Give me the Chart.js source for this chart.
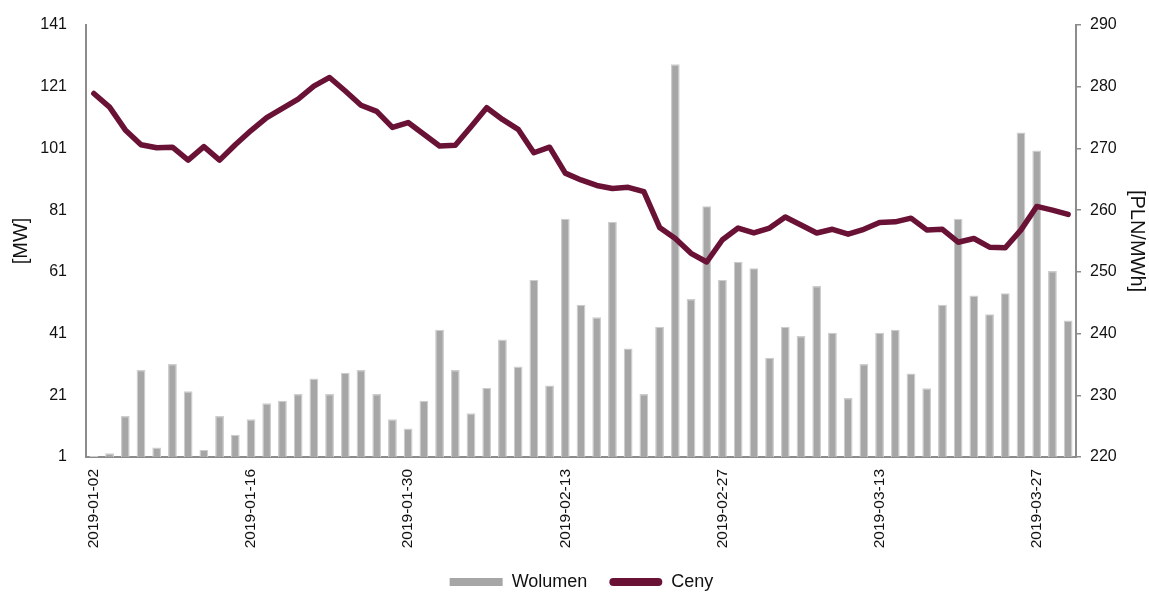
<!DOCTYPE html>
<html>
<head>
<meta charset="utf-8">
<script src="https://cdn.jsdelivr.net/npm/chart.js@4.4.1/dist/chart.umd.min.js"></script>
<style>
  html, body { margin: 0; padding: 0; background: #ffffff; }
  #wrap { width: 1149px; height: 592px; position: relative; }
</style>
</head>
<body>
<div id="wrap"><canvas id="c" width="1149" height="592"></canvas></div>
<script>
const categories = [
  "2019-01-02","2019-01-03","2019-01-04","2019-01-07","2019-01-08","2019-01-09","2019-01-10","2019-01-11",
  "2019-01-14","2019-01-15","2019-01-16","2019-01-17","2019-01-18","2019-01-21","2019-01-22","2019-01-23",
  "2019-01-24","2019-01-25","2019-01-28","2019-01-29","2019-01-30","2019-01-31",
  "2019-02-01","2019-02-04","2019-02-05","2019-02-06","2019-02-07","2019-02-08","2019-02-11","2019-02-12",
  "2019-02-13","2019-02-14","2019-02-15","2019-02-18","2019-02-19","2019-02-20","2019-02-21","2019-02-22",
  "2019-02-25","2019-02-26","2019-02-27","2019-02-28",
  "2019-03-01","2019-03-04","2019-03-05","2019-03-06","2019-03-07","2019-03-08","2019-03-11","2019-03-12",
  "2019-03-13","2019-03-14","2019-03-15","2019-03-18","2019-03-19","2019-03-20","2019-03-21","2019-03-22",
  "2019-03-25","2019-03-26","2019-03-27","2019-03-28","2019-03-29"
];
const xTickLabels = ["2019-01-02","2019-01-16","2019-01-30","2019-02-13","2019-02-27","2019-03-13","2019-03-27"];

const wolumen = [
  1.3, 2.2, 14.3, 29.2, 4.1, 31.1, 22.3, 3.3, 14.3, 8.2,
  13.2, 18.4, 19.2, 21.4, 26.4, 21.4, 28.3, 29.2, 21.4, 13.2,
  10.2, 19.2, 42.2, 29.2, 15.2, 23.4, 39.1, 30.3, 58.4, 24.2,
  78.2, 50.3, 46.3, 77.2, 36.2, 21.4, 43.2, 128.3, 52.2, 82.3,
  58.4, 64.3, 62.2, 33.2, 43.2, 40.2, 56.4, 41.3, 20.1, 31.1,
  41.3, 42.2, 28.1, 23.3, 50.3, 78.2, 53.3, 47.3, 54.1, 106.2,
  100.3, 61.3, 45.2
];
const ceny = [
  278.9, 276.7, 273.0, 270.6, 270.1, 270.2, 268.1, 270.3, 268.1, 270.6,
  272.9, 275.0, 276.5, 278.0, 280.1, 281.5, 279.3, 277.0, 276.0, 273.4,
  274.2, 272.3, 270.4, 270.5, 273.5, 276.6, 274.7, 273.1, 269.3, 270.2,
  266.0, 264.9, 264.0, 263.5, 263.7, 263.0, 257.2, 255.4, 253.0, 251.6,
  255.2, 257.1, 256.3, 257.1, 258.9, 257.6, 256.3, 256.9, 256.1, 256.9,
  258.0, 258.1, 258.7, 256.8, 256.9, 254.8, 255.4, 254.0, 253.9, 256.8,
  260.6, 260.0, 259.3
];
const leftTicks = [1, 21, 41, 61, 81, 101, 121, 141];
const rightTicks = [220, 230, 240, 250, 260, 270, 280, 290];

const BAR = '#a6a6a6', BAR_EDGE = '#cdcdcd', LINE = '#6a1236', AXIS = '#8c8c8c';
const FONT = "'Liberation Sans', Arial, sans-serif";
const LEGEND_FONT = 18, LEGEND_PAD = 22;

// place the legend row like the reference (centre y ~582, slightly right of centre)
const legendPlacer = {
  id: 'legendPlacer',
  afterLayout(chart) {
    const lg = chart.legend;
    if (!lg) return;
    const dy = 582 - (lg.top + LEGEND_PAD + LEGEND_FONT / 2);
    lg.top += dy;
    lg.bottom = chart.height;
    lg.height = lg.bottom - lg.top;
    lg.left += 7; lg.right += 7;
  }
};

new Chart(document.getElementById('c'), {
  data: {
    labels: categories,
    datasets: [
      {
        type: 'line', label: 'Ceny', data: ceny, yAxisID: 'y1',
        borderColor: LINE, backgroundColor: LINE, borderWidth: 5.5,
        pointRadius: 0, tension: 0, borderCapStyle: 'round', borderJoinStyle: 'round'
      },
      {
        type: 'bar', label: 'Wolumen', data: wolumen, yAxisID: 'y',
        backgroundColor: BAR, borderColor: BAR_EDGE, borderWidth: 1.2,
        categoryPercentage: 1.0, barPercentage: 0.56
      }
    ]
  },
  plugins: [legendPlacer],
  options: {
    responsive: false, animation: false, devicePixelRatio: 1,
    layout: { padding: { top: 25, bottom: 0, left: 0, right: 0 } },
    plugins: {
      tooltip: { enabled: false },
      legend: {
        position: 'bottom', maxHeight: 35,
        labels: {
          font: { family: FONT, size: LEGEND_FONT }, color: '#111',
          boxWidth: 53, boxHeight: 8, padding: LEGEND_PAD, useBorderRadius: true,
          generateLabels: () => [
            { text: 'Wolumen', fillStyle: BAR, strokeStyle: BAR, lineWidth: 0, datasetIndex: 1, borderRadius: 0, fontColor: '#111' },
            { text: 'Ceny', fillStyle: LINE, strokeStyle: LINE, lineWidth: 0, datasetIndex: 0, borderRadius: 4, fontColor: '#111' }
          ]
        }
      }
    },
    scales: {
      x: {
        grid: { display: false },
        border: { display: true, color: AXIS, width: 2 },
        ticks: {
          autoSkip: false, minRotation: 90, maxRotation: 90, padding: 4,
          font: { family: FONT, size: 15.5 }, color: '#111',
          callback: function (v, i) { const l = categories[i]; return xTickLabels.includes(l) ? l : ''; }
        },
        afterFit: s => { s.height = 100; }
      },
      y: {
        position: 'left', min: 1, max: 141,
        grid: { display: false },
        border: { display: true, color: AXIS, width: 2 },
        ticks: { font: { family: FONT, size: 16 }, color: '#111', padding: 11 },
        afterBuildTicks: s => { s.ticks = leftTicks.map(v => ({ value: v })); },
        title: { display: true, text: '[MW]', font: { family: FONT, size: 20 }, color: '#111', padding: { top: 9, bottom: 0 } },
        afterFit: s => { s.width = 86; }
      },
      y1: {
        position: 'right', min: 220, max: 290,
        grid: { display: true, drawOnChartArea: false, drawTicks: true, tickLength: 5, color: AXIS, lineWidth: 1.5 },
        border: { display: true, color: AXIS, width: 2 },
        ticks: { font: { family: FONT, size: 16 }, color: '#111', padding: 9 },
        afterBuildTicks: s => { s.ticks = rightTicks.map(v => ({ value: v })); },
        title: { display: true, text: '[PLN/MWh]', font: { family: FONT, size: 20 }, color: '#111', padding: { top: 0, bottom: 0 } },
        afterFit: s => { s.width = 73; }
      }
    }
  }
});
</script>
</body>
</html>
